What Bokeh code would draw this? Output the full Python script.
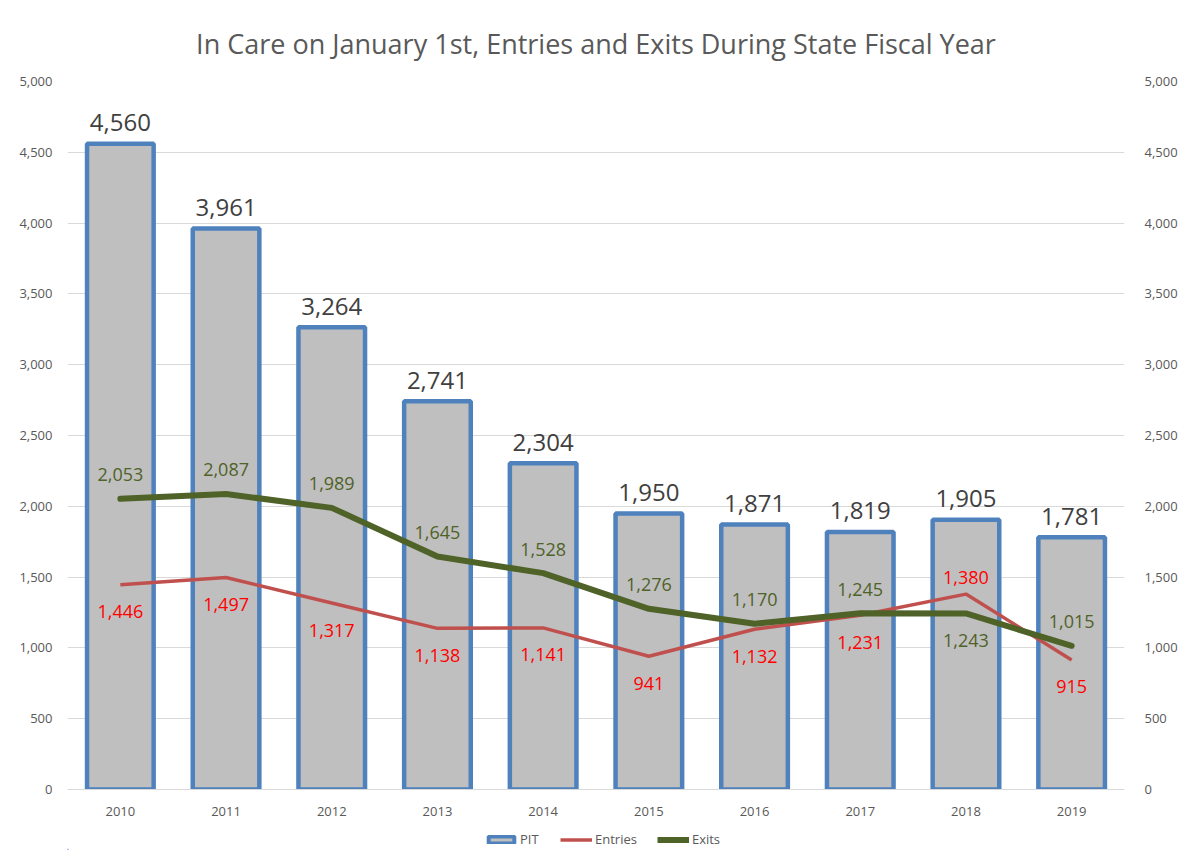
from bokeh.plotting import figure
from bokeh.layouts import column
from bokeh.models import (ColumnDataSource, Range1d, FactorRange, LinearAxis,
                          SingleIntervalTicker, NumeralTickFormatter, Legend, LegendItem)
from bokeh.core.properties import value
from bokeh.embed import file_html
from bokeh.resources import INLINE

years = ["2010", "2011", "2012", "2013", "2014", "2015", "2016", "2017", "2018", "2019"]
pit = [4560, 3961, 3264, 2741, 2304, 1950, 1871, 1819, 1905, 1781]
entries = [1446, 1497, 1317, 1138, 1141, 941, 1132, 1231, 1380, 915]
exits = [2053, 2087, 1989, 1645, 1528, 1276, 1170, 1245, 1243, 1015]

FONT = "Open Sans"
GRAY = "#595959"
BAR_FILL, BAR_LINE = "#BFBFBF", "#4F81BD"
RED, GREEN = "#C0504D", "#4F6228"

fmt = lambda v: f"{v:,}"
# label above the higher of the two lines, below the lower one
ex_off = [-24 if e >= n else 27 for e, n in zip(exits, entries)]
en_off = [-17 if n > e else 27 for e, n in zip(exits, entries)]

src = ColumnDataSource(dict(
    x=years, pit=pit, entries=entries, exits=exits,
    pit_lbl=[fmt(v) for v in pit],
    en_lbl=[fmt(v) for v in entries],
    ex_lbl=[fmt(v) for v in exits],
    ex_off=ex_off, en_off=en_off,
))

p = figure(width=1180, height=825, output_backend="svg", toolbar_location=None,
           x_range=FactorRange(*years, range_padding=0), y_range=Range1d(0, 5000),
           min_border_left=67, min_border_right=53, min_border_top=81, min_border_bottom=36)

p.title.text = "In Care on January 1st, Entries and Exits During State Fiscal Year"
p.title.align = "center"
p.title.text_font = FONT
p.title.text_font_size = "27px"
p.title.text_font_style = "normal"
p.title.text_color = GRAY
p.title.standoff = 40

p.outline_line_color = None
p.background_fill_color = "white"
p.border_fill_color = "white"

p.yaxis.ticker = SingleIntervalTicker(interval=500)
p.yaxis.formatter = NumeralTickFormatter(format="0,0")
right = LinearAxis(ticker=SingleIntervalTicker(interval=500),
                   formatter=NumeralTickFormatter(format="0,0"))
p.add_layout(right, "right")

for ax in p.yaxis:
    ax.axis_line_color = None
    ax.major_tick_line_color = None
    ax.minor_tick_line_color = None
    ax.major_label_text_font = FONT
    ax.major_label_text_font_size = "13px"
    ax.major_label_text_color = GRAY
p.yaxis[0].major_label_standoff = 9
right.major_label_standoff = 14

p.xaxis.axis_line_color = "#D9D9D9"
p.xaxis.major_tick_line_color = None
p.xaxis.minor_tick_line_color = None
p.xaxis.major_label_text_font = FONT
p.xaxis.major_label_text_font_size = "13px"
p.xaxis.major_label_text_color = GRAY
p.xaxis.major_label_standoff = 11

p.xgrid.grid_line_color = None
p.ygrid.grid_line_color = "#D9D9D9"
p.ygrid.grid_line_width = 1

bars = p.vbar(x="x", top="pit", width=0.63, source=src,
              fill_color=BAR_FILL, line_color=BAR_LINE, line_width=4.5)
en_line = p.line(x="x", y="entries", source=src, line_color=RED, line_width=3.5)
ex_line = p.line(x="x", y="exits", source=src, line_color=GREEN, line_width=6,
                 line_join="round", line_cap="round")

p.text(x="x", y="pit", text="pit_lbl", source=src, y_offset=-21,
       text_align="center", text_baseline="middle", text_font=value(FONT),
       text_font_size="24px", text_color="#404040")
p.text(x="x", y="exits", text="ex_lbl", source=src, y_offset="ex_off",
       text_align="center", text_baseline="middle", text_font=value(FONT),
       text_font_size="18px", text_color=GREEN)
p.text(x="x", y="entries", text="en_lbl", source=src, y_offset="en_off",
       text_align="center", text_baseline="middle", text_font=value(FONT),
       text_font_size="18px", text_color="#FF0000")

# legend strip below the chart (its proxy glyphs sit far outside the visible range)
lf = figure(width=1180, height=25, output_backend="svg", toolbar_location=None,
            min_border=0, x_range=Range1d(0, 1), y_range=Range1d(0, 1))
lf.axis.visible = False
lf.grid.grid_line_color = None
lf.outline_line_color = None
lf.border_fill_color = "white"
lr_bar = lf.vbar(x=[-100], top=[-100], bottom=[-101], width=0.5,
                 fill_color=BAR_FILL, line_color=BAR_LINE, line_width=4)
lr_en = lf.line(x=[-100, -99], y=[-100, -100], line_color=RED, line_width=3.5)
lr_ex = lf.line(x=[-100, -99], y=[-100, -100], line_color=GREEN, line_width=6)

legend = Legend(items=[
    LegendItem(label="PIT", renderers=[lr_bar]),
    LegendItem(label="Entries", renderers=[lr_en]),
    LegendItem(label="Exits", renderers=[lr_ex]),
], orientation="horizontal", location=(418, 2))
legend.border_line_color = None
legend.background_fill_alpha = 0
legend.label_text_font = FONT
legend.label_text_font_size = "13px"
legend.label_text_color = GRAY
legend.glyph_width = 32
legend.glyph_height = 9
legend.spacing = 20
legend.label_standoff = 3
legend.padding = 3
legend.margin = 0
lf.add_layout(legend, "center")

layout = column(p, lf, spacing=0)
open("out.html", "w").write(file_html(layout, INLINE))
